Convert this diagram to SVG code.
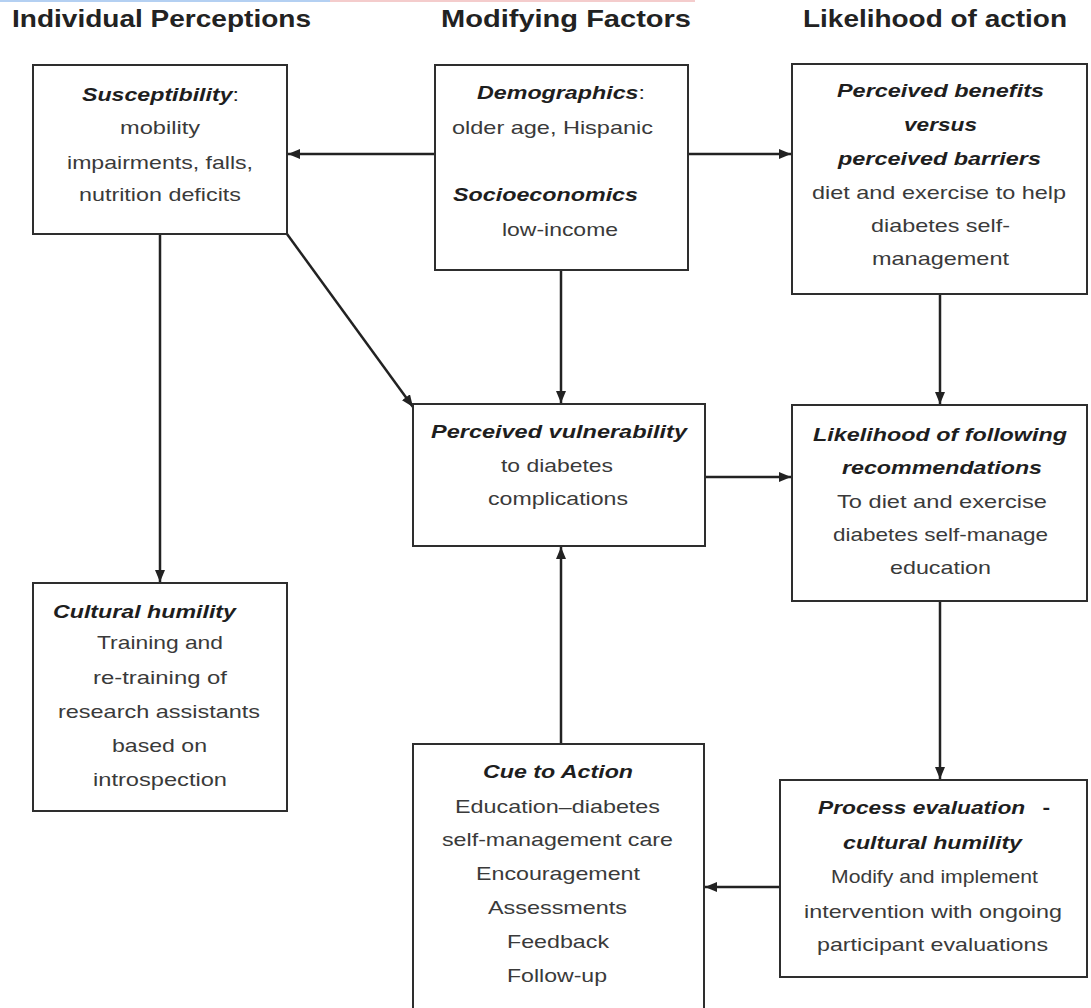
<svg xmlns="http://www.w3.org/2000/svg" width="1091" height="1008" viewBox="0 0 1091 1008">
<defs>
<style>
.box{fill:#fff;stroke:#2e2e2e;stroke-width:2}
.t{font-family:"Liberation Sans",Arial,sans-serif;font-size:18.5px;fill:#3a3a3a}
.h{font-family:"Liberation Sans",Arial,sans-serif;font-size:18.5px;font-weight:bold;font-style:italic;fill:#1e1e1e}
.title{font-family:"Liberation Sans",Arial,sans-serif;font-size:24px;font-weight:bold;fill:#222}
.con{stroke:#222;stroke-width:2.5;fill:none;marker-end:url(#ah)}
</style>
<marker id="ah" markerUnits="userSpaceOnUse" markerWidth="12" markerHeight="10" viewBox="0 0 12 10" refX="12" refY="5" orient="auto">
<path d="M0,0 L12,5 L0,10 Z" fill="#222"/>
</marker>
</defs>
<rect width="1091" height="1008" fill="#fff"/>
<rect x="0" y="0" width="330" height="2" fill="#b4d0f2"/>
<rect x="330" y="0" width="365" height="2" fill="#f4cccc"/>

<g id="titles">
<text class="title" x="12" y="27" textLength="299" lengthAdjust="spacingAndGlyphs">Individual Perceptions</text>
<text class="title" x="441" y="27" textLength="250" lengthAdjust="spacingAndGlyphs">Modifying Factors</text>
<text class="title" x="803" y="27" textLength="264" lengthAdjust="spacingAndGlyphs">Likelihood of action</text>
</g>

<g id="connectors">
<line class="con" x1="435" y1="154" x2="288" y2="154"/>
<line class="con" x1="688" y1="154" x2="791" y2="154"/>
<line class="con" x1="561" y1="270" x2="561" y2="403"/>
<line class="con" x1="287" y1="234" x2="413" y2="407"/>
<line class="con" x1="160" y1="234" x2="160" y2="582"/>
<line class="con" x1="940" y1="294" x2="940" y2="404"/>
<line class="con" x1="706" y1="477" x2="791" y2="477"/>
<line class="con" x1="940" y1="601" x2="940" y2="779"/>
<line class="con" x1="780" y1="887" x2="705" y2="887"/>
<line class="con" x1="561" y1="744" x2="561" y2="547"/>
</g>

<g id="susceptibility">
<rect class="box" x="33" y="65" width="254" height="169"/>
<text class="h" x="82" y="101" textLength="157" lengthAdjust="spacingAndGlyphs">Susceptibility<tspan font-weight="normal" font-style="normal">:</tspan></text>
<text class="t" x="120" y="134" textLength="80" lengthAdjust="spacingAndGlyphs">mobility</text>
<text class="t" x="67" y="169" textLength="186" lengthAdjust="spacingAndGlyphs">impairments, falls,</text>
<text class="t" x="79" y="201" textLength="162" lengthAdjust="spacingAndGlyphs">nutrition deficits</text>
</g>

<g id="demographics">
<rect class="box" x="435" y="65" width="253" height="205"/>
<text class="h" x="477" y="99" textLength="168" lengthAdjust="spacingAndGlyphs">Demographics<tspan font-weight="normal" font-style="normal">:</tspan></text>
<text class="t" x="452" y="134" textLength="201" lengthAdjust="spacingAndGlyphs">older age, Hispanic</text>
<text class="h" x="453" y="201" textLength="185" lengthAdjust="spacingAndGlyphs">Socioeconomics</text>
<text class="t" x="502" y="236" textLength="116" lengthAdjust="spacingAndGlyphs">low-income</text>
</g>

<g id="benefits">
<rect class="box" x="792" y="64" width="295" height="230"/>
<text class="h" x="837" y="97" textLength="207" lengthAdjust="spacingAndGlyphs">Perceived benefits</text>
<text class="h" x="904" y="131" textLength="73" lengthAdjust="spacingAndGlyphs">versus</text>
<text class="h" x="838" y="165" textLength="203" lengthAdjust="spacingAndGlyphs">perceived barriers</text>
<text class="t" x="812" y="199" textLength="254" lengthAdjust="spacingAndGlyphs">diet and exercise to help</text>
<text class="t" x="871" y="232" textLength="139" lengthAdjust="spacingAndGlyphs">diabetes self-</text>
<text class="t" x="872" y="265" textLength="137" lengthAdjust="spacingAndGlyphs">management</text>
</g>

<g id="vulnerability">
<rect class="box" x="413" y="404" width="292" height="142"/>
<text class="h" x="431" y="438" textLength="256" lengthAdjust="spacingAndGlyphs">Perceived vulnerability</text>
<text class="t" x="501" y="472" textLength="112" lengthAdjust="spacingAndGlyphs">to diabetes</text>
<text class="t" x="488" y="505" textLength="140" lengthAdjust="spacingAndGlyphs">complications</text>
</g>

<g id="likelihood">
<rect class="box" x="792" y="405" width="295" height="196"/>
<text class="h" x="813" y="441" textLength="254" lengthAdjust="spacingAndGlyphs">Likelihood of following</text>
<text class="h" x="842" y="474" textLength="200" lengthAdjust="spacingAndGlyphs">recommendations</text>
<text class="t" x="837" y="508" textLength="210" lengthAdjust="spacingAndGlyphs">To diet and exercise</text>
<text class="t" x="833" y="541" textLength="215" lengthAdjust="spacingAndGlyphs">diabetes self-manage</text>
<text class="t" x="890" y="574" textLength="101" lengthAdjust="spacingAndGlyphs">education</text>
</g>

<g id="process-evaluation">
<rect class="box" x="780" y="780" width="307" height="197"/>
<text class="h" x="818" y="814" textLength="232" lengthAdjust="spacingAndGlyphs">Process evaluation<tspan dx="14" font-style="normal">-</tspan></text>
<text class="h" x="843" y="849" textLength="179" lengthAdjust="spacingAndGlyphs">cultural humility</text>
<text class="t" x="831" y="883" textLength="207" lengthAdjust="spacingAndGlyphs">Modify and implement</text>
<text class="t" x="804" y="918" textLength="258" lengthAdjust="spacingAndGlyphs">intervention with ongoing</text>
<text class="t" x="817" y="951" textLength="231" lengthAdjust="spacingAndGlyphs">participant evaluations</text>
</g>

<g id="cue-to-action">
<rect class="box" x="413" y="744" width="291" height="280"/>
<text class="h" x="483" y="778" textLength="150" lengthAdjust="spacingAndGlyphs">Cue to Action</text>
<text class="t" x="455" y="813" textLength="205" lengthAdjust="spacingAndGlyphs">Education–diabetes</text>
<text class="t" x="442" y="846" textLength="231" lengthAdjust="spacingAndGlyphs">self-management care</text>
<text class="t" x="476" y="880" textLength="164" lengthAdjust="spacingAndGlyphs">Encouragement</text>
<text class="t" x="488" y="914" textLength="139" lengthAdjust="spacingAndGlyphs">Assessments</text>
<text class="t" x="507" y="948" textLength="102" lengthAdjust="spacingAndGlyphs">Feedback</text>
<text class="t" x="507" y="982" textLength="100" lengthAdjust="spacingAndGlyphs">Follow-up</text>
</g>

<g id="cultural-humility">
<rect class="box" x="33" y="583" width="254" height="228"/>
<text class="h" x="53" y="618" textLength="183" lengthAdjust="spacingAndGlyphs">Cultural humility</text>
<text class="t" x="97" y="649" textLength="126" lengthAdjust="spacingAndGlyphs">Training and</text>
<text class="t" x="93" y="684" textLength="134" lengthAdjust="spacingAndGlyphs">re-training of</text>
<text class="t" x="58" y="718" textLength="202" lengthAdjust="spacingAndGlyphs">research assistants</text>
<text class="t" x="112" y="752" textLength="95" lengthAdjust="spacingAndGlyphs">based on</text>
<text class="t" x="93" y="786" textLength="134" lengthAdjust="spacingAndGlyphs">introspection</text>
</g>
</svg>
